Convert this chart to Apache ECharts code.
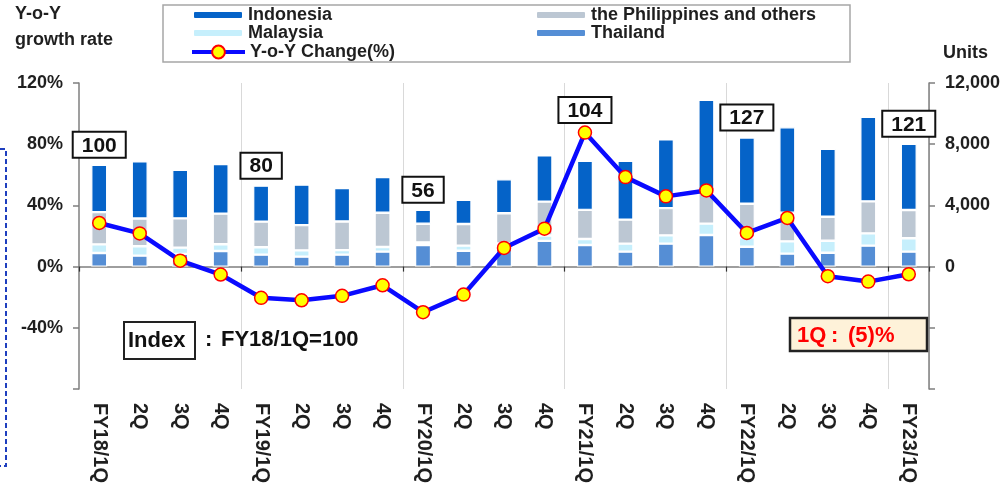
<!DOCTYPE html>
<html>
<head>
<meta charset="utf-8">
<script src="https://cdn.jsdelivr.net/npm/echarts@6/dist/echarts.min.js"></script>
<style>html,body{margin:0;padding:0;background:#fff;}#c{width:1005px;height:489px;}</style>
</head>
<body>
<div id="c"></div>
<script>
const categories = ['FY18/1Q','2Q','3Q','4Q','FY19/1Q','2Q','3Q','4Q','FY20/1Q','2Q','3Q','4Q','FY21/1Q','2Q','3Q','4Q','FY22/1Q','2Q','3Q','4Q','FY23/1Q'];
const thailand    = [890, 720, 830, 1020, 780, 650, 780, 980, 1410, 1040, 1180, 1680, 1410, 980, 1500, 2070, 1300, 850, 910, 1370, 980];
const malaysia    = [560, 610, 410, 440, 480, 410, 300, 300, 170, 330, 330, 350, 390, 520, 540, 740, 610, 800, 780, 800, 870];
const philippines = [2110, 1810, 1910, 2000, 1680, 1650, 1870, 2240, 1220, 1410, 1980, 2220, 1910, 1570, 1780, 2110, 2200, 1870, 1570, 2090, 1850];
const indonesia   = [3090, 3740, 3180, 3240, 2350, 2650, 2180, 2330, 910, 1590, 2220, 3020, 3200, 3850, 4500, 5980, 4330, 5590, 4440, 5530, 4330];
const yoyChange   = [28.5, 21.7, 3.9, -5.2, -20.4, -22.0, -19.1, -12.2, -29.8, -18.3, 12.2, 24.8, 87.6, 58.5, 45.9, 49.8, 22.0, 31.8, -6.3, -9.8, -5];
const indexPositions = [0, 4, 8, 12, 16, 20];
const indexLabels = ['100', '80', '56', '104', '127', '121'];
const leftTicks = [-80, 120, 40];     // min, max, interval (%)
const rightTicks = [-8000, 12000, 4000]; // min, max, interval (units)

const FONT = "'Liberation Sans', Arial, sans-serif";
const TXT = '#1f1f1f';

const totals = categories.map((_, i) => thailand[i] + malaysia[i] + philippines[i] + indonesia[i]);
const indexData = indexPositions.map((p, k) => {
  const item = { value: [p, totals[p]], label: { formatter: indexLabels[k] } };
  if (indexLabels[k] === '104') item.label.offset = [0, -31];
  return item;
});

function fmtUnits(v) {
  if (v < 0) return '';
  return String(v).replace(/\B(?=(\d{3})+(?!\d))/g, ',');
}

const barCommon = {
  type: 'bar', stack: 'total', xAxisIndex: 0, yAxisIndex: 1, barWidth: 16,
  itemStyle: { borderColor: '#ffffff', borderWidth: 1.2 }
};

const legendCommon = {
  orient: 'horizontal', padding: 0, itemGap: 0, itemWidth: 50, itemHeight: 8, selectedMode: false,
  textStyle: { fontSize: 18, fontWeight: 'bold', color: TXT, fontFamily: FONT, lineHeight: 18 }
};

const chart = echarts.init(document.getElementById('c'), null, { renderer: 'canvas' });
chart.setOption({
  animation: false,
  backgroundColor: '#ffffff',
  textStyle: { fontFamily: FONT },
  grid: { left: 79, right: 76, top: 83, bottom: 100, containLabel: false },
  legend: [
    Object.assign({}, legendCommon, { data: ['Indonesia'], left: 192, top: 6 }),
    Object.assign({}, legendCommon, { data: ['Malaysia'], left: 192, top: 24 }),
    Object.assign({}, legendCommon, { data: ['Y-o-Y Change(%)'], left: 190, top: 43, itemWidth: 53, itemHeight: 16,
      lineStyle: { width: 4, color: '#0a0aff' } }),
    Object.assign({}, legendCommon, { data: ['the Philippines and others'], left: 535, top: 6 }),
    Object.assign({}, legendCommon, { data: ['Thailand'], left: 535, top: 24 })
  ],
  xAxis: [
    {
      type: 'category', data: categories, position: 'top', boundaryGap: true,
      axisLine: { show: true, onZero: true, lineStyle: { color: '#7f7f7f', width: 1.5 } },
      axisTick: { show: true, inside: true, length: 5, interval: (i) => i % 4 === 0, lineStyle: { color: '#333', width: 1.2 } },
      axisLabel: { show: false },
      splitLine: { show: false }
    },
    {
      type: 'category', data: categories, position: 'bottom', boundaryGap: true,
      axisLine: { show: false }, axisTick: { show: false },
      axisLabel: { show: true, interval: 0, rotate: -90, margin: 14, fontSize: 20, fontWeight: 'bold', color: TXT, fontFamily: FONT },
      splitLine: { show: true, interval: (i) => i > 0 && i % 4 === 0, lineStyle: { color: '#d9d9d9', width: 1 } }
    }
  ],
  yAxis: [
    {
      type: 'value', position: 'left', min: leftTicks[0], max: leftTicks[1], interval: leftTicks[2],
      axisLine: { show: true, lineStyle: { color: '#7f7f7f', width: 1.5 } },
      axisTick: { show: true, length: 6, lineStyle: { color: '#7f7f7f', width: 1.5 } },
      axisLabel: { margin: 16, fontSize: 18, fontWeight: 'bold', color: TXT, fontFamily: FONT,
        formatter: (v) => v <= -80 ? '' : v + '%' },
      splitLine: { show: false }
    },
    {
      type: 'value', position: 'right', min: rightTicks[0], max: rightTicks[1], interval: rightTicks[2],
      axisLine: { show: true, lineStyle: { color: '#7f7f7f', width: 1.5 } },
      axisTick: { show: true, length: 6, lineStyle: { color: '#7f7f7f', width: 1.5 } },
      axisLabel: { margin: 16, fontSize: 18, fontWeight: 'bold', color: TXT, fontFamily: FONT, formatter: fmtUnits },
      splitLine: { show: false }
    }
  ],
  series: [
    Object.assign({}, barCommon, { name: 'Thailand', data: thailand, itemStyle: Object.assign({}, barCommon.itemStyle, { color: '#558ed5' }) }),
    Object.assign({}, barCommon, { name: 'Malaysia', data: malaysia, itemStyle: Object.assign({}, barCommon.itemStyle, { color: '#c6effc' }) }),
    Object.assign({}, barCommon, { name: 'the Philippines and others', data: philippines, itemStyle: Object.assign({}, barCommon.itemStyle, { color: '#bcc7d3' }) }),
    Object.assign({}, barCommon, { name: 'Indonesia', data: indonesia, itemStyle: Object.assign({}, barCommon.itemStyle, { color: '#0563c8' }) }),
    {
      name: 'Y-o-Y Change(%)', type: 'line', xAxisIndex: 0, yAxisIndex: 0, data: yoyChange, z: 5,
      symbol: 'circle', symbolSize: 13,
      lineStyle: { color: '#0a0aff', width: 4.5 },
      itemStyle: { color: '#ffff00', borderColor: '#ff0000', borderWidth: 1.5 }
    },
    {
      name: 'indexBoxes', type: 'scatter', xAxisIndex: 0, yAxisIndex: 1, symbolSize: 0, z: 6,
      data: indexData,
      itemStyle: { opacity: 1 },
      label: { show: true, position: 'top', distance: 8, fontSize: 21, fontWeight: 'bold', color: '#111', fontFamily: FONT, opacity: 1,
        backgroundColor: '#ffffff', borderColor: '#111', borderWidth: 2, padding: [3, 8, 1, 8], lineHeight: 20 },
      tooltip: { show: false }
    }
  ],
  graphic: [
    { type: 'rect', shape: { x: 163, y: 5, width: 687, height: 57 }, style: { fill: 'none', stroke: '#a6a6a6', lineWidth: 1.5 }, z: 0 },
    { type: 'text', x: 15, y: 14, style: { text: 'Y-o-Y', fontSize: 18, fontWeight: 'bold', fill: TXT, fontFamily: FONT, verticalAlign: 'middle' } },
    { type: 'text', x: 15, y: 40, style: { text: 'growth rate', fontSize: 18, fontWeight: 'bold', fill: TXT, fontFamily: FONT, verticalAlign: 'middle' } },
    { type: 'text', x: 943, y: 53, style: { text: 'Units', fontSize: 18, fontWeight: 'bold', fill: TXT, fontFamily: FONT, verticalAlign: 'middle' } },
    { type: 'rect', shape: { x: 124, y: 322, width: 71, height: 37 }, style: { fill: '#fff', stroke: '#222', lineWidth: 2 }, z: 10 },
    { type: 'text', x: 128, y: 341, z: 11, style: { text: 'Index', fontSize: 22, fontWeight: 'bold', fill: '#111', fontFamily: FONT, verticalAlign: 'middle' } },
    { type: 'text', x: 205, y: 340, z: 11, style: { text: ':', fontSize: 22, fontWeight: 'bold', fill: '#111', fontFamily: FONT, verticalAlign: 'middle' } },
    { type: 'text', x: 221, y: 340, z: 11, style: { text: 'FY18/1Q=100', fontSize: 22, fontWeight: 'bold', fill: '#111', fontFamily: FONT, verticalAlign: 'middle' } },
    { type: 'rect', shape: { x: 790, y: 318, width: 137, height: 33 }, style: { fill: '#fef2d9', stroke: '#222', lineWidth: 2.5 }, z: 10 },
    { type: 'text', x: 797, y: 336, z: 11, style: { text: '1Q', fontSize: 22, fontWeight: 'bold', fill: '#ff0000', fontFamily: FONT, verticalAlign: 'middle' } },
    { type: 'text', x: 831, y: 336, z: 11, style: { text: ':', fontSize: 22, fontWeight: 'bold', fill: '#ff0000', fontFamily: FONT, verticalAlign: 'middle' } },
    { type: 'text', x: 848, y: 336, z: 11, style: { text: '(5)%', fontSize: 22, fontWeight: 'bold', fill: '#ff0000', fontFamily: FONT, verticalAlign: 'middle' } },
    { type: 'polyline', shape: { points: [[0, 149], [6, 149], [6, 466], [0, 466]] }, style: { fill: 'none', stroke: '#1f3fbf', lineWidth: 2, lineDash: [5, 3] } }
  ]
});
</script>
</body>
</html>
